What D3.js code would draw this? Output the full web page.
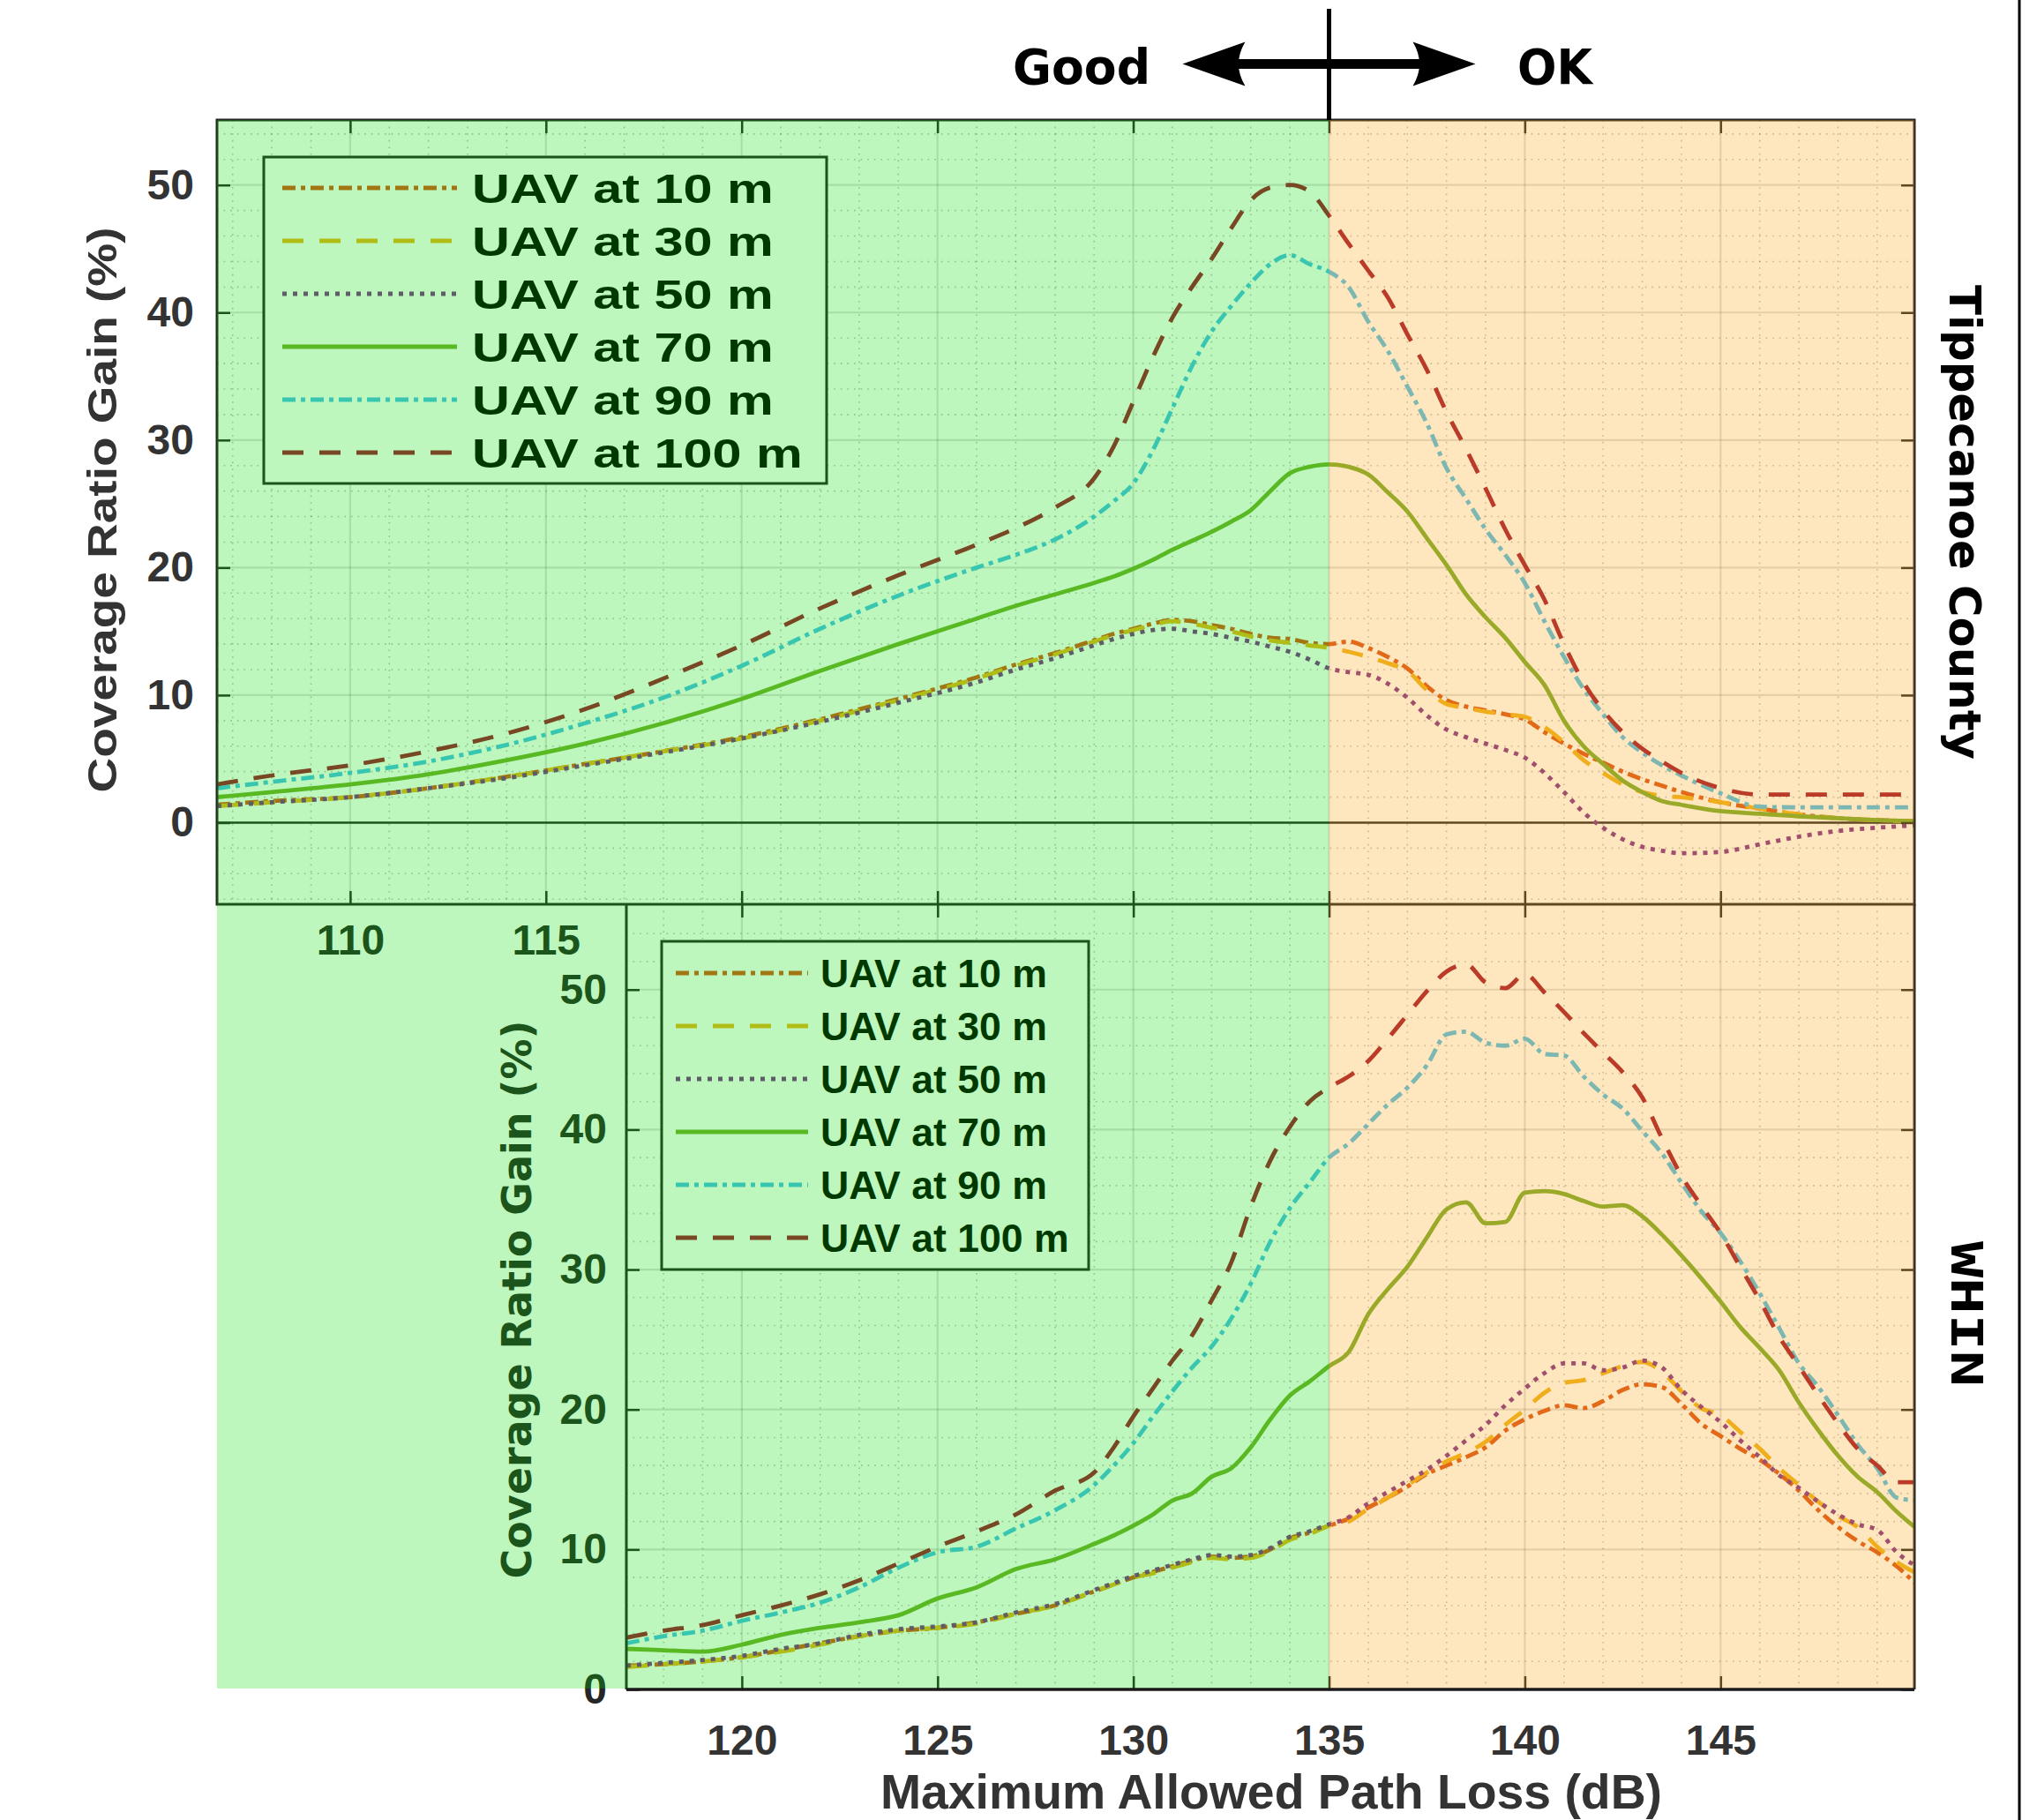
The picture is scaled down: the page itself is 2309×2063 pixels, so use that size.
<!DOCTYPE html>
<html><head><meta charset="utf-8">
<script src="https://cdn.jsdelivr.net/npm/d3@7"></script>
<style>body{margin:0;background:#fff} svg{display:block}</style>
</head><body>
<svg id="c" width="2309" height="2063"></svg>
<script>
// ---------------- DATA ----------------
const seriesNames = ["UAV at 10 m","UAV at 30 m","UAV at 50 m","UAV at 70 m","UAV at 90 m","UAV at 100 m"];
const seriesColors = ["#d9531a","#edb120","#7e2f8e","#77ac30","#4dbeee","#a2142f"];
const seriesDash = ["15,6,5,6","24,18","5,7",null,"15,6,5,6","24,18"];

// Top panel (Tippecanoe County)
const topX = [106.6,108,110,112,114,116,118,120,122,124,126,127,128,129,
  129.5,130,130.5,131,131.5,132,132.5,133,133.5,134,134.5,135,135.5,136,136.5,137,137.5,138,138.5,139,139.5,140,140.5,141,141.5,142,142.5,143,143.5,144,
  145,146,147,148,149,150];
const top10 = [1.4,1.7,2.0,2.7,3.6,4.6,5.6,6.7,8.1,9.7,11.4,12.4,13.3,14.3,
  14.8,15.2,15.6,15.9,15.8,15.5,15.2,14.8,14.5,14.4,14.1,14.0,14.2,13.7,13.0,12.1,10.7,9.6,9.1,8.8,8.5,8.1,7.1,6.2,5.4,4.7,4.0,3.4,2.9,2.4,
  1.6,1.1,0.65,0.35,0.2,0.1];
const top30 = [1.3,1.6,2.0,2.7,3.6,4.6,5.6,6.6,8.0,9.6,11.3,12.3,13.2,14.2,
  14.7,15.1,15.5,15.8,15.6,15.3,15.0,14.6,14.3,14.1,13.9,13.7,13.4,13.0,12.5,11.9,10.4,9.3,9.0,8.7,8.5,8.3,7.5,6.3,4.9,3.9,3.0,2.4,2.1,2.0,
  1.6,1.1,0.65,0.35,0.2,0.1];
const top50 = [1.3,1.6,2.0,2.7,3.5,4.5,5.5,6.6,7.9,9.4,11.0,12.0,12.9,13.9,
  14.4,14.8,15.1,15.2,15.0,14.8,14.5,14.2,13.8,13.4,12.8,12.1,11.8,11.6,10.9,9.8,8.4,7.3,6.7,6.2,5.7,5.1,3.9,2.4,0.8,-0.4,-1.3,-1.9,-2.2,-2.4,
  -2.3,-1.7,-1.1,-0.65,-0.4,-0.2];
const top70 = [2.0,2.4,3.0,3.8,4.9,6.2,7.8,9.7,11.9,14.0,16.0,17.0,17.9,18.8,
  19.3,19.9,20.6,21.4,22.1,22.8,23.6,24.5,26.0,27.4,27.9,28.1,27.9,27.3,25.9,24.4,22.3,20.2,17.9,16.1,14.5,12.6,10.8,8.0,6.0,4.6,3.3,2.4,1.7,1.4,
  0.9,0.7,0.5,0.35,0.2,0.1];
const top90 = [2.7,3.2,3.9,4.8,6.1,7.8,9.8,12.3,15.2,17.8,20.0,21.0,22.2,24.0,
  25.2,26.6,29.2,32.5,35.8,38.5,40.5,42.3,43.8,44.5,43.8,43.2,42.0,39.3,37.0,34.2,31.3,27.8,25.4,23.0,21.0,18.8,15.8,13.0,10.5,8.5,6.7,5.5,4.5,3.7,
  2.3,1.25,1.2,1.2,1.2,1.2];
const top100 = [3.0,3.7,4.5,5.6,7.0,8.9,11.3,13.9,16.8,19.4,21.8,23.1,24.7,27.0,
  29.5,33.0,36.5,39.6,42.0,44.2,46.6,48.8,49.8,50.0,49.5,47.6,45.4,43.3,41.2,38.3,35.5,32.2,29.3,26.2,23.0,20.2,17.5,14.0,11.0,8.8,7.1,5.8,4.8,3.9,
  2.7,2.2,2.2,2.2,2.2,2.2];

// Bottom panel (WHIN)
const botX = [117.05,118,119,120,121,122,123,124,125,126,127,128,129,
  129.5,130,130.5,131,131.5,132,132.5,133,133.5,134,134.5,135,
  135.5,136,136.5,137,137.5,138,138.5,139,139.5,140,140.5,141,141.5,142,142.5,143,143.5,144,144.5,145,145.5,146,146.5,147,147.5,148,148.5,149,149.5,150];
const bot10 = [1.7,1.8,2.0,2.3,2.8,3.3,3.8,4.2,4.4,4.8,5.4,6.0,7.0,
  7.5,8.0,8.4,8.8,9.2,9.5,9.4,9.5,10.0,10.8,11.2,11.7,
  12.2,13.0,13.7,14.5,15.4,16.0,16.6,17.3,18.5,19.3,19.9,20.3,20.1,20.6,21.4,21.8,21.6,20.4,19.0,18.1,17.2,16.4,15.4,14.2,12.8,11.6,10.6,9.8,8.8,7.5];
const bot30 = [1.6,1.8,2.0,2.3,2.7,3.2,3.8,4.2,4.4,4.7,5.4,6.0,7.0,
  7.5,8.0,8.3,8.7,9.1,9.4,9.3,9.4,9.9,10.7,11.1,11.7,
  12.0,12.9,13.7,14.6,15.5,16.3,16.9,17.7,18.9,20.0,21.2,21.9,22.1,22.6,23.1,23.4,22.7,21.3,20.1,19.6,18.4,17.2,15.8,14.6,13.4,12.4,11.6,10.2,9.1,8.3];
const bot50 = [1.7,1.9,2.1,2.4,2.9,3.3,3.9,4.3,4.5,4.8,5.5,6.1,7.1,
  7.6,8.1,8.5,8.9,9.3,9.6,9.5,9.6,10.1,10.9,11.3,11.8,
  12.3,13.3,14.1,14.9,15.7,16.7,17.8,18.9,20.3,21.5,22.6,23.3,23.3,22.8,23.0,23.5,23.0,21.4,20.2,19.1,17.8,16.6,15.3,14.4,13.4,12.5,11.8,11.4,9.8,8.8];
const bot70 = [2.9,2.8,2.7,3.2,3.9,4.4,4.8,5.3,6.5,7.3,8.6,9.3,10.4,
  11.0,11.7,12.5,13.5,14.0,15.2,15.8,17.3,19.3,21.0,22.0,23.1,
  24.1,26.8,28.6,30.2,32.3,34.3,34.8,33.3,33.4,35.5,35.6,35.4,34.9,34.5,34.6,33.8,32.5,31.0,29.4,27.7,25.9,24.4,22.8,20.5,18.5,16.7,15.2,14.1,12.7,11.5];
const bot90 = [3.3,3.8,4.2,4.9,5.5,6.2,7.3,8.7,9.8,10.2,11.5,12.8,14.6,
  16.0,17.6,19.5,21.3,23.0,24.5,26.5,29.0,32.0,34.4,36.2,38.0,
  39.0,40.4,41.8,43.0,44.6,46.8,47.0,46.2,46.0,46.5,45.4,45.3,43.8,42.5,41.5,39.9,38.3,36.2,34.2,32.6,30.6,28.3,25.8,23.3,21.6,19.6,17.5,15.8,13.7,13.5];
const bot100 = [3.7,4.2,4.6,5.3,6.0,6.8,7.8,9.0,10.2,11.3,12.5,14.2,15.5,
  17.3,19.5,21.5,23.5,25.3,27.8,30.5,34.5,37.8,40.2,42.0,43.0,
  43.8,44.9,46.5,48.2,49.9,51.3,51.8,50.5,50.1,51.1,49.8,48.4,46.9,45.5,44.1,42.3,39.4,36.7,34.6,32.6,30.2,27.8,25.2,23.1,21.0,19.0,17.2,16.0,14.8,14.8];

const topXTicks = [110,115,120,125,130,135,140,145];
const topXLabels = [110,115];
const topYTicks = [0,10,20,30,40,50];
const botXTicks = [120,125,130,135,140,145];
const botYTicks = [0,10,20,30,40,50];
const boundaryDB = 135;

// ---------------- LAYOUT ----------------
const W = 2309, H = 2063;
const TP = {l:246, r:2170, t:136, b:1025};
const BP = {l:710, r:2170, t:1025, b:1915};
const xT = d3.scaleLinear().domain([106.6,149.95]).range([TP.l,TP.r]);
const yT = d3.scaleLinear().domain([-6.4,55.1]).range([TP.b,TP.t]);
const xB = d3.scaleLinear().domain([117.05,149.95]).range([BP.l,BP.r]);
const yB = d3.scaleLinear().domain([0,56.1]).range([BP.b,BP.t]);
const AX = "#262626";
const SANS = "'Liberation Sans', Arial, Helvetica, sans-serif";
const DJ = "'DejaVu Sans', Verdana, sans-serif";

const svg = d3.select("#c");
svg.append("rect").attr("width",W).attr("height",H).attr("fill","#fff");
const defs = svg.append("defs");
defs.append("clipPath").attr("id","clipT").append("rect")
  .attr("x",TP.l).attr("y",TP.t).attr("width",TP.r-TP.l).attr("height",TP.b-TP.t);
defs.append("clipPath").attr("id","clipB").append("rect")
  .attr("x",BP.l).attr("y",BP.t).attr("width",BP.r-BP.l).attr("height",BP.b-BP.t);

// ---------------- GRID ----------------
function grid(x, y, P, xMaj, yMaj, xMin, yMin){
  const g = svg.append("g");
  g.selectAll(".mnx").data(xMin).join("line")
    .attr("x1",d=>x(d)).attr("x2",d=>x(d)).attr("y1",P.t).attr("y2",P.b)
    .attr("stroke",AX).attr("stroke-opacity",0.3).attr("stroke-width",1.6).attr("stroke-dasharray","1.6,6");
  g.selectAll(".mny").data(yMin).join("line")
    .attr("x1",P.l).attr("x2",P.r).attr("y1",d=>y(d)).attr("y2",d=>y(d))
    .attr("stroke",AX).attr("stroke-opacity",0.3).attr("stroke-width",1.6).attr("stroke-dasharray","1.6,6");
  g.selectAll(".mjx").data(xMaj).join("line")
    .attr("x1",d=>x(d)).attr("x2",d=>x(d)).attr("y1",P.t).attr("y2",P.b)
    .attr("stroke",AX).attr("stroke-opacity",0.15).attr("stroke-width",2.2);
  g.selectAll(".mjy").data(yMaj).join("line")
    .attr("x1",P.l).attr("x2",P.r).attr("y1",d=>y(d)).attr("y2",d=>y(d))
    .attr("stroke",AX).attr("stroke-opacity",0.15).attr("stroke-width",2.2);
}
grid(xT, yT, TP, topXTicks, topYTicks.filter(d=>d!==0),
  d3.range(107,150).filter(d=>d%5!==0), d3.range(-6,56,2).filter(d=>d%10!==0));
grid(xB, yB, BP, botXTicks, botYTicks.filter(d=>d!==0),
  d3.range(118,150).filter(d=>d%5!==0), d3.range(2,56,2).filter(d=>d%10!==0));

// zero line (top panel)
svg.append("line").attr("x1",TP.l).attr("x2",TP.r).attr("y1",yT(0)).attr("y2",yT(0))
  .attr("stroke",AX).attr("stroke-width",2.5);

// ---------------- CURVES ----------------
const topSeries = [top10,top30,top50,top70,top90,top100];
const botSeries = [bot10,bot30,bot50,bot70,bot90,bot100];
function curves(xs, ys, xS, yS, clip){
  const g = svg.append("g").attr("clip-path",`url(#${clip})`);
  const line = d3.line().x((d,i)=>xS(xs[i])).y(d=>yS(d)).curve(d3.curveMonotoneX);
  ys.forEach((vals,k)=>{
    g.append("path").datum(vals).attr("d",line).attr("fill","none")
      .attr("stroke",seriesColors[k]).attr("stroke-width",4.8)
      .attr("stroke-linejoin","round")
      .attr("stroke-dasharray",seriesDash[k]);
  });
}
curves(topX, topSeries, xT, yT, "clipT");
curves(botX, botSeries, xB, yB, "clipB");

// ---------------- LEGENDS ----------------
function legend(box, lx1, lx2, row0, tx, fs, sx, base){
  const g = svg.append("g");
  g.append("rect").attr("x",box.x).attr("y",box.y).attr("width",box.w).attr("height",box.h)
    .attr("fill","#fff").attr("stroke",AX).attr("stroke-width",3);
  seriesNames.forEach((n,k)=>{
    const yy = row0 + 60*k;
    g.append("line").attr("x1",lx1).attr("x2",lx2).attr("y1",yy).attr("y2",yy)
      .attr("stroke",seriesColors[k]).attr("stroke-width",4.8).attr("stroke-dasharray",seriesDash[k]);
    g.append("text").attr("transform",`translate(${tx},${yy+base}) scale(${sx},1)`)
      .attr("font-family",SANS).attr("font-weight","bold").attr("font-size",fs)
      .attr("fill","#000").text(n);
  });
}
legend({x:299,y:178,w:638,h:370}, 320, 518, 213, 535, 46, 1.29, 17);
legend({x:750,y:1067,w:484,h:372}, 766, 916, 1103, 930, 44.6, 1, 16);

// ---------------- AXES ----------------
function styleAxis(g, color, fs){
  g.select(".domain").remove();
  g.selectAll(".tick line").attr("stroke",AX).attr("stroke-width",2.5);
  g.selectAll(".tick text").attr("fill",color).attr("font-size",fs)
    .attr("font-family",SANS).attr("font-weight","bold");
}
// top panel
styleAxis(svg.append("g").attr("transform",`translate(${TP.l},0)`)
  .call(d3.axisLeft(yT).tickValues(topYTicks).tickSize(-15).tickPadding(26)), "#333", 48);
styleAxis(svg.append("g").attr("transform",`translate(${TP.r},0)`)
  .call(d3.axisRight(yT).tickValues(topYTicks).tickSize(-15).tickFormat("")), "#333", 48);
styleAxis(svg.append("g").attr("transform",`translate(0,${TP.t})`)
  .call(d3.axisTop(xT).tickValues(topXTicks).tickSize(-15).tickFormat("")), "#333", 48);
styleAxis(svg.append("g").attr("transform",`translate(0,${TP.b})`)
  .call(d3.axisBottom(xT).tickValues(topXTicks).tickSize(-15).tickPadding(23)
    .tickFormat(d=>topXLabels.includes(d)?d:"")), AX, 48);
svg.append("rect").attr("x",TP.l).attr("y",TP.t).attr("width",TP.r-TP.l).attr("height",TP.b-TP.t)
  .attr("fill","none").attr("stroke",AX).attr("stroke-width",3);
// bottom panel
styleAxis(svg.append("g").attr("transform",`translate(${BP.l},0)`)
  .call(d3.axisLeft(yB).tickValues(botYTicks).tickSize(-15).tickPadding(22)), AX, 48);
styleAxis(svg.append("g").attr("transform",`translate(${BP.r},0)`)
  .call(d3.axisRight(yB).tickValues(botYTicks).tickSize(-15).tickFormat("")), AX, 48);
styleAxis(svg.append("g").attr("transform",`translate(0,${BP.t})`)
  .call(d3.axisTop(xB).tickValues(botXTicks).tickSize(-15).tickFormat("")), AX, 48);
styleAxis(svg.append("g").attr("transform",`translate(0,${BP.b})`)
  .call(d3.axisBottom(xB).tickValues(botXTicks).tickSize(-15).tickPadding(40)), "#333", 48);
svg.append("line").attr("x1",BP.l).attr("x2",BP.l).attr("y1",BP.t).attr("y2",BP.b).attr("stroke",AX).attr("stroke-width",3);
svg.append("line").attr("x1",BP.r).attr("x2",BP.r).attr("y1",BP.t).attr("y2",BP.b).attr("stroke",AX).attr("stroke-width",3);

// bottom-panel y label (inside green zone)
svg.append("text").attr("transform","translate(602,1473) rotate(-90)")
  .attr("text-anchor","middle").attr("font-family",DJ).attr("font-weight","bold")
  .attr("font-size",46).attr("fill",AX).attr("textLength",633).attr("lengthAdjust","spacingAndGlyphs")
  .text("Coverage Ratio Gain (%)");

// ---------------- REGION OVERLAYS ----------------
svg.append("rect").attr("x",TP.l).attr("y",TP.t)
  .attr("width",xT(boundaryDB)-TP.l).attr("height",BP.b-1-TP.t)
  .attr("fill","rgb(0,223,0)").attr("fill-opacity",0.255);
svg.append("rect").attr("x",xT(boundaryDB)).attr("y",TP.t)
  .attr("width",TP.r-xT(boundaryDB)).attr("height",BP.b-1-TP.t)
  .attr("fill","rgb(250,165,20)").attr("fill-opacity",0.27);

// bottom axis line
svg.append("line").attr("x1",BP.l).attr("x2",BP.r).attr("y1",BP.b).attr("y2",BP.b).attr("stroke","#1a1a1a").attr("stroke-width",3.5);

// ---------------- OUTER TEXT ----------------
svg.append("text").attr("transform","translate(132,578) rotate(-90)")
  .attr("text-anchor","middle").attr("font-family",SANS).attr("font-weight","bold")
  .attr("font-size",46).attr("fill","#333").attr("textLength",641).attr("lengthAdjust","spacingAndGlyphs")
  .text("Coverage Ratio Gain (%)");
svg.append("text").attr("x",1441).attr("y",2050)
  .attr("text-anchor","middle").attr("font-family",SANS).attr("font-weight","bold")
  .attr("font-size",55).attr("fill","#333").attr("textLength",886).attr("lengthAdjust","spacingAndGlyphs")
  .text("Maximum Allowed Path Loss (dB)");
svg.append("text").attr("transform","translate(2210,592) rotate(90)")
  .attr("text-anchor","middle").attr("font-family",DJ).attr("font-weight","bold")
  .attr("font-size",50).attr("fill","#000").attr("textLength",538).attr("lengthAdjust","spacingAndGlyphs")
  .text("Tippecanoe County");
svg.append("text").attr("transform","translate(2212,1489.5) rotate(90)")
  .attr("text-anchor","middle").attr("font-family","'DejaVu Sans Mono', monospace").attr("font-weight","bold")
  .attr("font-size",50).attr("fill","#000").attr("textLength",165).attr("lengthAdjust","spacingAndGlyphs")
  .text("WHIN");

// Good / OK annotation
const bx = xT(boundaryDB), ay = 72.5;
svg.append("line").attr("x1",bx).attr("x2",bx).attr("y1",10).attr("y2",TP.t).attr("stroke","#000").attr("stroke-width",5);
const half = 166, headL = 68, headH = 25;
svg.append("rect").attr("x",bx-half+headL-8).attr("y",ay-5.5).attr("width",2*(half-headL)+16).attr("height",11).attr("fill","#000");
svg.append("path").attr("d",
  `M${bx-half},${ay} L${bx-half+headL+3},${ay-headH} Q${bx-half+headL-12},${ay} ${bx-half+headL+3},${ay+headH} Z`).attr("fill","#000");
svg.append("path").attr("d",
  `M${bx+half},${ay} L${bx+half-headL-3},${ay-headH} Q${bx+half-headL+12},${ay} ${bx+half-headL-3},${ay+headH} Z`).attr("fill","#000");
svg.append("text").attr("x",1304).attr("y",95).attr("text-anchor","end")
  .attr("font-family",DJ).attr("font-weight","bold").attr("font-size",56).attr("fill","#000")
  .attr("textLength",156).attr("lengthAdjust","spacingAndGlyphs").text("Good");
svg.append("text").attr("x",1720).attr("y",95)
  .attr("font-family",DJ).attr("font-weight","bold").attr("font-size",56).attr("fill","#000")
  .attr("textLength",85).attr("lengthAdjust","spacingAndGlyphs").text("OK");

// right frame line
svg.append("line").attr("x1",2289).attr("x2",2289).attr("y1",0).attr("y2",H).attr("stroke","#000").attr("stroke-width",3);
</script>
</body></html>
